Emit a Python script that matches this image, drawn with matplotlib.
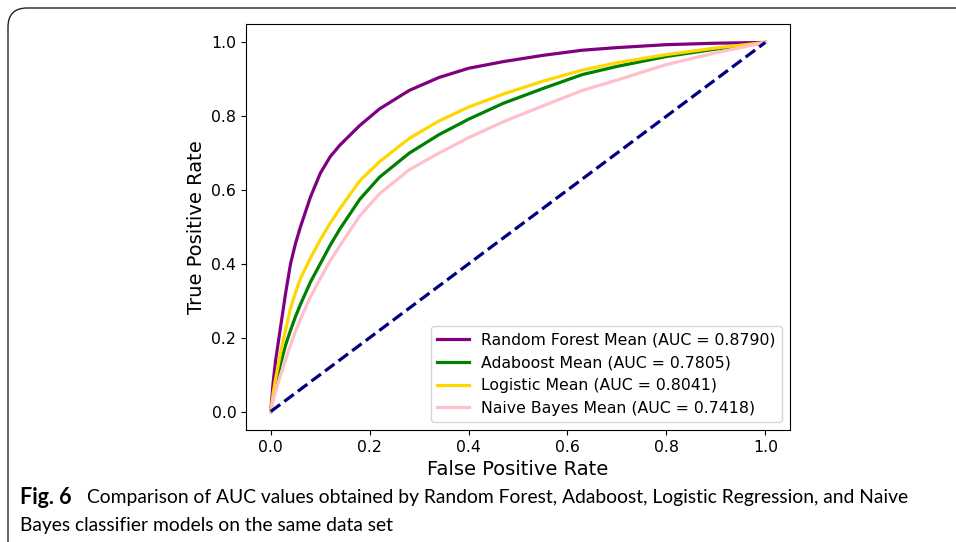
import numpy as np
import matplotlib
matplotlib.use('Agg')
import matplotlib.pyplot as plt
from matplotlib.patches import FancyBboxPatch

# ROC data (mean curves)
fpr = [0.0, 0.005, 0.01, 0.02, 0.03, 0.04, 0.05, 0.06, 0.08, 0.1, 0.12, 0.14, 0.18, 0.22,
       0.28, 0.34, 0.4, 0.47, 0.55, 0.63, 0.7, 0.8, 0.9, 1.0]
tpr_rf = [0.0, 0.08, 0.14, 0.23, 0.32, 0.40, 0.455, 0.50, 0.58, 0.645, 0.69, 0.722, 0.775, 0.82,
          0.87, 0.905, 0.93, 0.948, 0.965, 0.979, 0.986, 0.994, 0.998, 1.0]
tpr_ada = [0.0, 0.04, 0.075, 0.13, 0.18, 0.22, 0.257, 0.29, 0.35, 0.40, 0.45, 0.495, 0.575, 0.635,
           0.70, 0.75, 0.792, 0.835, 0.875, 0.913, 0.935, 0.962, 0.982, 1.0]
tpr_log = [0.0, 0.05, 0.09, 0.16, 0.22, 0.28, 0.322, 0.36, 0.415, 0.465, 0.51, 0.55, 0.625, 0.677,
           0.74, 0.787, 0.825, 0.86, 0.895, 0.925, 0.945, 0.967, 0.985, 1.0]
tpr_nb = [0.0, 0.03, 0.055, 0.10, 0.14, 0.18, 0.217, 0.25, 0.31, 0.36, 0.408, 0.45, 0.53, 0.59,
          0.655, 0.70, 0.742, 0.785, 0.828, 0.87, 0.898, 0.94, 0.972, 1.0]

labels = ['Random Forest Mean (AUC = 0.8790)', 'Adaboost Mean (AUC = 0.7805)',
          'Logistic Mean (AUC = 0.8041)', 'Naive Bayes Mean (AUC = 0.7418)']
colors = ['purple', 'green', 'gold', 'pink']
caption_bold = 'Fig. 6'
caption = ('Comparison of AUC values obtained by Random Forest, Adaboost, Logistic Regression, and Naive\n'
           'Bayes classifier models on the same data set')

fig = plt.figure(figsize=(9.56, 5.42), dpi=100)

# rounded frame around the figure panel
frame = FancyBboxPatch((8 / 956, -0.05), 1.2, 1 - 8 / 542 + 0.05,
                       boxstyle='round,pad=0,rounding_size=0.02',
                       transform=fig.transFigure, fill=False,
                       edgecolor='#222222', linewidth=1.0, mutation_aspect=956 / 542)
fig.patches.append(frame)

ax = fig.add_axes([246 / 956, 1 - 430 / 542, 544 / 956, 406 / 542])
for tpr, lab, col in zip([tpr_rf, tpr_ada, tpr_log, tpr_nb], labels, colors):
    ax.plot(fpr, tpr, color=col, lw=2.3, label=lab)
ax.plot([0, 1], [0, 1], color='navy', lw=2.3, linestyle='--')

ax.set_xlabel('False Positive Rate', fontsize=14)
ax.set_ylabel('True Positive Rate', fontsize=14)
ax.tick_params(labelsize=11.3)
ax.legend(loc='lower right', fontsize=11.3)

fig.text(20 / 956, 1 - 497 / 542, caption_bold, fontsize=15.5, fontweight='bold',
         family='Lato', va='center')
fig.text(87 / 956, 1 - 497 / 542, caption.split('\n')[0], fontsize=13.9,
         family='Lato', va='center')
fig.text(20 / 956, 1 - 525 / 542, caption.split('\n')[1], fontsize=13.9,
         family='Lato', va='center')

fig.savefig('out.png', dpi=100)
